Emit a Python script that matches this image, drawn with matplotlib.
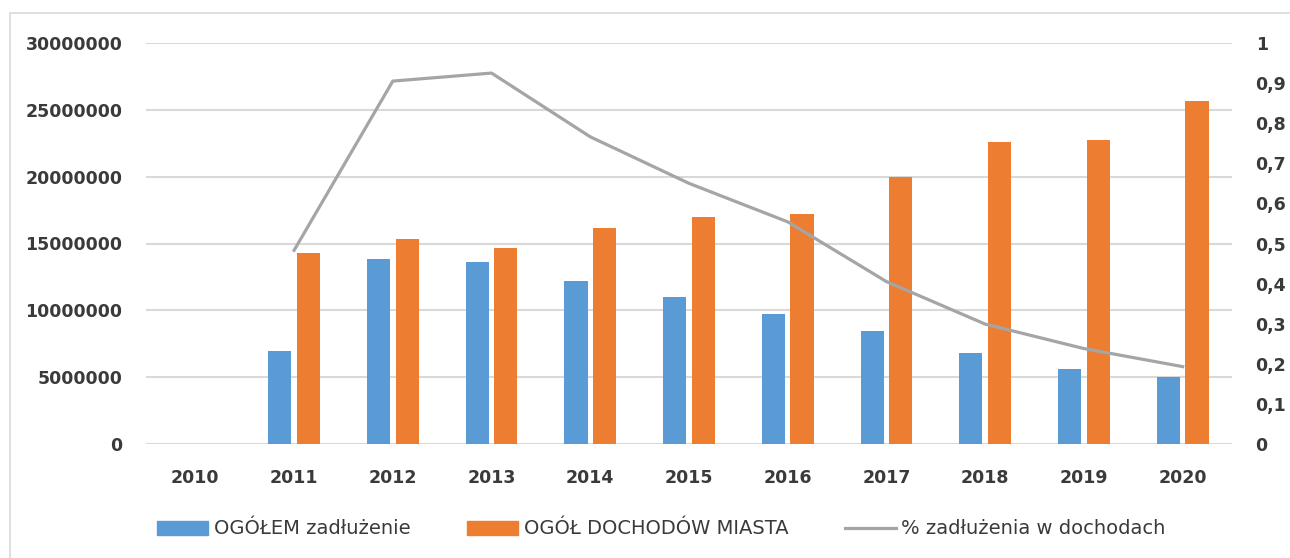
import numpy as np
import matplotlib
matplotlib.use("Agg")
import matplotlib.pyplot as plt
from matplotlib.patches import Rectangle
from matplotlib.lines import Line2D

# ---- dane ----
lata = ["2010", "2011", "2012", "2013", "2014", "2015", "2016", "2017", "2018", "2019", "2020"]
zadluzenie = [np.nan, 6930000, 13810000, 13610000, 12220000, 11030000, 9690000, 8490000, 6800000, 5630000, 5000000]
dochody = [np.nan, 14310000, 15370000, 14660000, 16140000, 17000000, 17200000, 20000000, 22580000, 22780000, 25630000]
procent = [np.nan, 0.483, 0.905, 0.925, 0.766, 0.650, 0.554, 0.405, 0.299, 0.238, 0.193]

lewe_ticki = [0, 5000000, 10000000, 15000000, 20000000, 25000000, 30000000]
prawe_ticki = [0, 0.1, 0.2, 0.3, 0.4, 0.5, 0.6, 0.7, 0.8, 0.9, 1.0]

NIEBIESKI = "#5B9BD5"
POMARANCZ = "#ED7D31"
SZARY = "#A5A5A5"
TEKST = "#3A3A3A"
SIATKA = "#D9D9D9"

W, H = 1290, 558
fig = plt.figure(figsize=(W / 100, H / 100), dpi=100)
fig.patch.set_facecolor("white")

# ramka wykresu (obcięta z prawej i z dołu)
fig.patches.append(Rectangle((10 / W, -0.1), 1.2, 1 - 13 / H + 0.1,
                             transform=fig.transFigure, fill=False,
                             edgecolor=SIATKA, linewidth=1.2))

ax = fig.add_axes([146 / W, 1 - 444 / H, (1232 - 146) / W, (444 - 43) / H])
x = np.arange(len(lata))
szer = 0.235
odst = 0.145
ax.bar(x - odst, zadluzenie, szer, color=NIEBIESKI, zorder=3)
ax.bar(x + odst, dochody, szer, color=POMARANCZ, zorder=3)

ax.set_xlim(-0.5, len(lata) - 0.5)
ax.set_ylim(0, 30000000)
ax.set_yticks(lewe_ticki)
ax.set_yticklabels([str(v) for v in lewe_ticki])
ax.set_xticks(x)
ax.set_xticklabels(lata)
ax.yaxis.grid(True, color=SIATKA, linewidth=1.5, zorder=0)
ax.set_axisbelow(True)
for s in ax.spines.values():
    s.set_visible(False)
ax.tick_params(axis="y", length=0, pad=17, labelsize=12.5, labelcolor=TEKST)
ax.tick_params(axis="x", length=0, pad=18, labelsize=12.5, labelcolor=TEKST)
for t in ax.get_xticklabels() + ax.get_yticklabels():
    t.set_fontweight("bold")

# oś procentowa
ax2 = ax.twinx()
ax2.plot(x, procent, color=SZARY, linewidth=2.3, zorder=4)
ax2.set_ylim(0, 1)
ax2.set_yticks(prawe_ticki)
ax2.set_yticklabels([("%g" % v).replace(".", ",") for v in prawe_ticki])
for s in ax2.spines.values():
    s.set_visible(False)
ax2.tick_params(axis="y", length=0, pad=17, labelsize=12.5, labelcolor=TEKST)
for t in ax2.get_yticklabels():
    t.set_fontweight("bold")

uchwyty = [
    Rectangle((0, 0), 1, 1, color=NIEBIESKI),
    Rectangle((0, 0), 1, 1, color=POMARANCZ),
    Line2D([0], [0], color=SZARY, linewidth=2.3),
]
opisy = ["OGÓŁEM zadłużenie", "OGÓŁ DOCHODÓW MIASTA", "% zadłużenia w dochodach"]
leg = fig.legend(uchwyty, opisy, loc="center", bbox_to_anchor=(661.5 / W, 1 - 529 / H),
                 ncol=3, frameon=False, fontsize=14, handlelength=2.62,
                 handletextpad=0.3, columnspacing=2.9, labelcolor=TEKST)

fig.savefig("out.png", dpi=100)
